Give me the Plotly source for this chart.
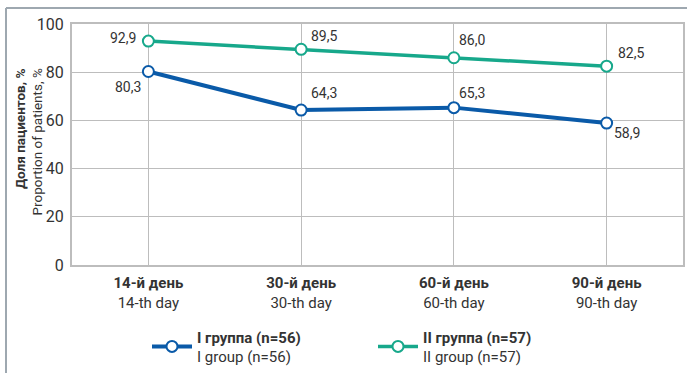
import plotly.graph_objects as go

categories = ["<b>14-й день</b><br>14-th day", "<b>30-й день</b><br>30-th day",
              "<b>60-й день</b><br>60-th day", "<b>90-й день</b><br>90-th day"]
group1 = [80.3, 64.3, 65.3, 58.9]
group2 = [92.9, 89.5, 86.0, 82.5]
name1 = "<b>I группа (n=56)</b><br>I group (n=56)"
name2 = "<b>II группа (n=57)</b><br>II group (n=57)"
y_ticks = [0, 20, 40, 60, 80, 100]
ytitle_ru = "<b>Доля пациентов, %</b>"
ytitle_en = "Proportion of patients, %"

FONT = "Roboto, Liberation Sans, sans-serif"
TXT = "#333333"
BLUE = "#0a5aa8"
GREEN = "#17a88b"
GRID = "#bdbdbd"

fig = go.Figure()
fig.add_trace(go.Scatter(x=categories, y=group1, mode="lines+markers", name=name1,
                         line=dict(color=BLUE, width=4),
                         marker=dict(size=11, color="white", line=dict(color=BLUE, width=2))))
fig.add_trace(go.Scatter(x=categories, y=group2, mode="lines+markers", name=name2,
                         line=dict(color=GREEN, width=3.5),
                         marker=dict(size=11, color="white", line=dict(color=GREEN, width=2))))

def fmt(v):
    return f"{v:.1f}".replace(".", ",")

# label placement (anchor, xshift, yshift) per point
place1 = [("right", -5, -16), ("left", 8, 17), ("left", 3, 15), ("left", 5, -10)]
place2 = [("right", -10, 3), ("left", 8, 13), ("left", 3, 18), ("left", 9, 13)]
for vals, places in ((group1, place1), (group2, place2)):
    for c, v, (anc, xs, ys) in zip(categories, vals, places):
        fig.add_annotation(x=c, y=v, text=fmt(v), showarrow=False, xanchor=anc,
                           yanchor="middle", xshift=xs, yshift=ys,
                           font=dict(size=14, color=TXT, family=FONT))

# y-axis title (two rotated lines, aligned at their ends)
for txt, px in ((ytitle_ru, 20), (ytitle_en, 36)):
    fig.add_annotation(xref="paper", yref="paper", x=(px - 72) / 611, y=(265 - 67) / 241,
                       text=txt, textangle=-90, showarrow=False, xanchor="center",
                       yanchor="top", font=dict(size=13.5, color=TXT, family=FONT))

# outer frame (left and top edges)
FRAME = "#9ea8b0"
fig.add_shape(type="line", xref="paper", yref="paper", x0=(6 - 72) / 611, x1=(6 - 72) / 611,
              y0=(265 - 8) / 241, y1=(265 - 380) / 241, line=dict(color=FRAME, width=2))
fig.add_shape(type="line", xref="paper", yref="paper", x0=(6 - 72) / 611, x1=(700 - 72) / 611,
              y0=(265 - 8) / 241, y1=(265 - 8) / 241, line=dict(color=FRAME, width=2))

fig.update_layout(
    width=687, height=373,
    margin=dict(l=72, r=4, t=24, b=108, autoexpand=False),
    paper_bgcolor="white", plot_bgcolor="white",
    font=dict(family=FONT, color=TXT),
    showlegend=True,
    legend=dict(orientation="h", x=(147 - 72) / 611, y=-0.23, xanchor="left", yanchor="top",
                entrywidth=171, entrywidthmode="pixels", itemwidth=40,
                font=dict(size=15, color=TXT, family=FONT), bgcolor="rgba(0,0,0,0)"),
    xaxis=dict(showgrid=True, gridcolor=GRID, gridwidth=1, showline=True, linecolor=GRID,
               linewidth=2, mirror=True, tickfont=dict(size=15, color=TXT, family=FONT),
               ticks="", range=[-0.5, 3.5], ticklabelstandoff=3),
    yaxis=dict(range=[0, 100], tickvals=y_ticks, showgrid=True, gridcolor=GRID, gridwidth=1,
               showline=True, linecolor=GRID, linewidth=2, mirror=True, zeroline=False,
               tickfont=dict(size=16, color=TXT, family=FONT), ticks="", ticklabelstandoff=3),
)

fig.write_html("out.html", config={"displayModeBar": False},
               post_script="document.body.style.margin='0';")
